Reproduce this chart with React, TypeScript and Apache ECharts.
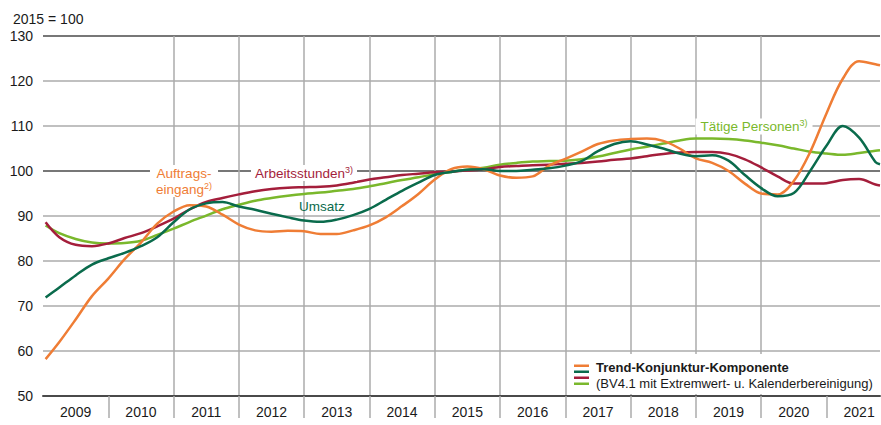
import React, { useEffect, useRef } from "react";
import * as echarts from "echarts";

// time positions (decimal years) of the read points
const times = [
  2009.04, 2009.25, 2009.5, 2009.75, 2010.0, 2010.25, 2010.5, 2010.75,
  2011.0, 2011.25, 2011.5, 2011.75, 2012.0, 2012.25, 2012.5, 2012.75,
  2013.0, 2013.25, 2013.5, 2013.75, 2014.0, 2014.25, 2014.5, 2014.75,
  2015.0, 2015.25, 2015.5, 2015.75, 2016.0, 2016.25, 2016.5, 2016.75,
  2017.0, 2017.25, 2017.5, 2017.75, 2018.0, 2018.25, 2018.5, 2018.75,
  2019.0, 2019.25, 2019.5, 2019.75, 2020.0, 2020.25, 2020.5, 2020.75,
  2021.0, 2021.25, 2021.5, 2021.75, 2021.82,
];

const auftragseingang = [
  58.2, 62.0, 67.0, 72.2, 76.1, 80.4, 84.1, 88.3, 91.0, 92.4, 92.1, 90.3,
  88.1, 86.8, 86.5, 86.7, 86.6, 86.0, 86.0, 86.8, 87.9, 89.7, 92.2, 94.9,
  98.1, 100.4, 101.0, 100.4, 99.0, 98.5, 98.8, 101.2, 102.7, 104.3, 106.0, 106.8,
  107.1, 107.2, 106.7, 105.0, 102.8, 101.8, 100.0, 97.2, 95.0, 94.8, 97.8, 104.2,
  112.8, 120.5, 124.4, 123.7, 123.5,
];

const umsatz = [
  71.9, 74.1, 76.8, 79.2, 80.6, 81.8, 83.3, 85.3, 88.6, 91.5, 92.8, 93.1,
  92.1, 91.4, 90.5, 89.7, 89.0, 88.7, 89.2, 90.2, 91.6, 93.6, 95.6, 97.4,
  99.1, 99.8, 100.3, 100.4, 100.0, 100.0, 100.3, 100.6, 101.2, 102.2, 104.4, 106.0,
  106.6, 105.9, 105.0, 103.9, 103.3, 103.5, 102.3, 99.1, 96.2, 94.4, 95.1, 100.0,
  105.6, 110.0, 107.4, 102.0, 101.5,
];

const arbeitsstunden = [
  88.6, 85.3, 83.6, 83.3, 83.9, 85.1, 86.2, 87.7, 89.4, 91.5, 93.1, 94.0,
  94.8, 95.5, 96.0, 96.3, 96.4, 96.5, 96.8, 97.4, 98.1, 98.6, 99.1, 99.4,
  99.7, 99.9, 100.1, 100.4, 100.9, 101.1, 101.3, 101.4, 101.6, 101.8, 102.1, 102.5,
  102.8, 103.3, 103.8, 104.1, 104.2, 104.2, 103.8, 102.6, 100.8, 98.8, 97.2, 97.2,
  97.3, 98.0, 98.2, 97.0, 96.8,
];

const taetigePersonen = [
  87.9, 86.2, 84.9, 84.1, 83.9, 84.0, 84.5, 85.8, 87.2, 88.7, 90.1, 91.5,
  92.5, 93.4, 94.0, 94.5, 94.9, 95.2, 95.6, 96.0, 96.6, 97.3, 98.0, 98.6,
  99.3, 99.8, 100.3, 100.7, 101.4, 101.8, 102.1, 102.2, 102.3, 102.6, 103.2, 104.0,
  104.8, 105.4, 106.1, 106.8, 107.2, 107.2, 107.1, 106.8, 106.3, 105.7, 105.0, 104.3,
  103.9, 103.6, 104.0, 104.5, 104.6,
];

const years = [2009, 2010, 2011, 2012, 2013, 2014, 2015, 2016, 2017, 2018, 2019, 2020, 2021];
const yearBoundaries = [2010, 2011, 2012, 2013, 2014, 2015, 2016, 2017, 2018, 2019, 2020, 2021];

const C_ORANGE = "#EF7D35";
const C_DKGREEN = "#0A6B4C";
const C_RED = "#A41E3B";
const C_GREEN = "#7AB82C";
const FONT = "'Liberation Sans', Arial, Helvetica, sans-serif";

export default function App() {
  const ref = useRef<HTMLDivElement>(null);
  useEffect(() => {
    const chart = echarts.init(ref.current!, null, { renderer: "svg" });
    const mk = (name: string, values: number[], color: string, z: number) => ({
      type: "line",
      name,
      data: times.map((t, i) => [t, values[i]]),
      smooth: 0.35,
      symbol: "none",
      showSymbol: false,
      lineStyle: { color, width: 2.5 },
      z,
    });
    const gridDark = "#4a4a4a";
    const gridLight = "#ababab";
    chart.setOption({
      animation: false,
      textStyle: { fontFamily: FONT },
      title: {
        text: "2015 = 100",
        left: 8,
        top: 7,
        textStyle: { fontSize: 14, fontWeight: "normal", color: "#1a1a1a", fontFamily: FONT },
      },
      grid: { left: 43, right: 1, top: 36, bottom: 29, containLabel: false },
      xAxis: {
        type: "value",
        min: 2009,
        max: 2021.82,
        interval: 1,
        axisLine: { show: true, onZero: false, lineStyle: { color: gridDark, width: 2 } },
        axisTick: {
          show: true,
          length: 22,
          customValues: yearBoundaries,
          lineStyle: { color: gridLight, width: 1.5 },
        },
        axisLabel: {
          show: true,
          customValues: years.map((y) => y + 0.5),
          formatter: (v: number) => String(Math.floor(v)),
          fontSize: 14,
          color: "#1a1a1a",
          margin: 9,
          fontFamily: FONT,
        },
        splitLine: {
          show: true,
          showMinLine: false,
          showMaxLine: false,
          lineStyle: { color: gridLight, width: 1.5 },
        },
      },
      yAxis: {
        type: "value",
        min: 50,
        max: 130,
        interval: 10,
        axisLine: { show: false },
        axisTick: { show: false },
        axisLabel: { fontSize: 14, color: "#1a1a1a", margin: 10, fontFamily: FONT },
        splitLine: {
          show: true,
          lineStyle: {
            color: [gridDark, gridLight, gridLight, gridLight, gridLight, gridDark, gridLight, gridLight, gridDark],
            width: 1.5,
          },
        },
      },
      series: [
        mk("Tätige Personen", taetigePersonen, C_GREEN, 3),
        mk("Arbeitsstunden", arbeitsstunden, C_RED, 4),
        mk("Auftragseingang", auftragseingang, C_ORANGE, 5),
        mk("Umsatz", umsatz, C_DKGREEN, 6),
      ],
      graphic: [
        {
          type: "rect",
          z: 20,
          shape: { x: 568, y: 354, width: 311, height: 40 },
          style: { fill: "#ffffff" },
        },
        { type: "rect", z: 21, shape: { x: 574, y: 364.5, width: 15, height: 2.5 }, style: { fill: C_ORANGE } },
        { type: "rect", z: 21, shape: { x: 574, y: 370.5, width: 15, height: 2.5 }, style: { fill: C_DKGREEN } },
        { type: "rect", z: 21, shape: { x: 574, y: 376.5, width: 15, height: 2.5 }, style: { fill: C_RED } },
        { type: "rect", z: 21, shape: { x: 574, y: 382.5, width: 15, height: 2.5 }, style: { fill: C_GREEN } },
        {
          type: "text",
          z: 21,
          style: {
            text: "Trend-Konjunktur-Komponente",
            x: 596,
            y: 367,
            verticalAlign: "middle",
            fill: "#1a1a1a",
            font: `bold 13px ${FONT}`,
          },
        },
        {
          type: "text",
          z: 21,
          style: {
            text: "(BV4.1 mit Extremwert- u. Kalenderbereinigung)",
            x: 596,
            y: 383,
            verticalAlign: "middle",
            fill: "#1a1a1a",
            font: `13px ${FONT}`,
          },
        },
        {
          type: "text",
          z: 21,
          style: {
            text: "Auftrags-\neingang{s|2)}",
            x: 184,
            y: 181,
            align: "center",
            verticalAlign: "middle",
            fill: C_ORANGE,
            font: `13.5px ${FONT}`,
            lineHeight: 16,
            backgroundColor: "#ffffff",
            padding: [0, 6],
            rich: { s: { fontSize: 9, verticalAlign: "top", fill: C_ORANGE, fontFamily: FONT } },
          },
        },
        {
          type: "text",
          z: 21,
          style: {
            text: "Arbeitsstunden{s|3)}",
            x: 304,
            y: 173,
            align: "center",
            verticalAlign: "middle",
            fill: C_RED,
            font: `13.5px ${FONT}`,
            lineHeight: 16,
            backgroundColor: "#ffffff",
            padding: [0, 4],
            rich: { s: { fontSize: 9, verticalAlign: "top", fill: C_RED, fontFamily: FONT } },
          },
        },
        {
          type: "text",
          z: 21,
          style: {
            text: "Umsatz",
            x: 322,
            y: 206.5,
            align: "center",
            verticalAlign: "middle",
            fill: C_DKGREEN,
            font: `13.5px ${FONT}`,
          },
        },
        {
          type: "text",
          z: 21,
          style: {
            text: "Tätige Personen{s|3)}",
            x: 754,
            y: 126.5,
            align: "center",
            verticalAlign: "middle",
            fill: C_GREEN,
            font: `13.5px ${FONT}`,
            lineHeight: 16,
            backgroundColor: "#ffffff",
            padding: [0, 5],
            rich: { s: { fontSize: 9, verticalAlign: "top", fill: C_GREEN, fontFamily: FONT } },
          },
        },
      ],
    });
    return () => chart.dispose();
  }, []);
  return (
    <div
      ref={ref}
      style={{ position: "absolute", left: 0, top: 0, width: 881, height: 425, background: "#fff" }}
    />
  );
}
